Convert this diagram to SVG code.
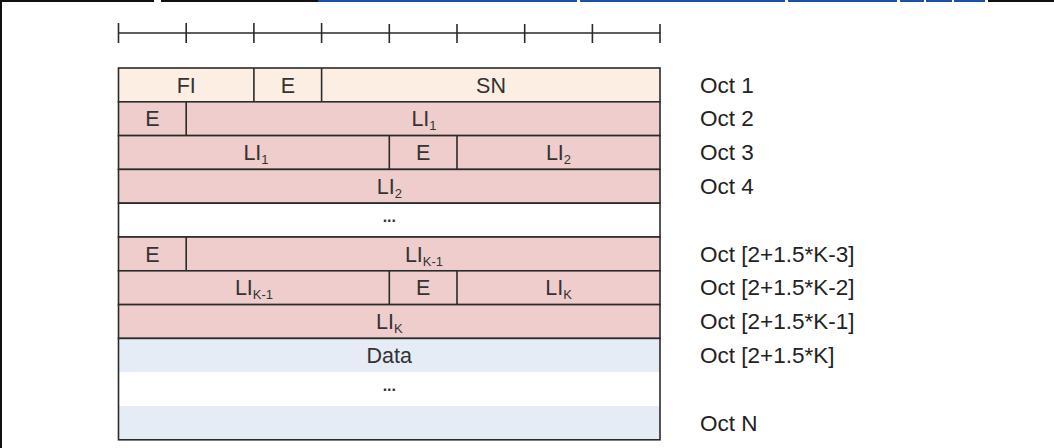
<svg xmlns="http://www.w3.org/2000/svg" width="1054" height="448" viewBox="0 0 1054 448">
<style>
  .ln{stroke:#2a2a2a;stroke-width:1.6;fill:none}
  .t{font-family:"Liberation Sans",Arial,sans-serif;font-size:21.5px;fill:#333;text-anchor:middle}
  .s{font-size:13px}
  .lab{font-family:"Liberation Sans",Arial,sans-serif;font-size:22.5px;fill:#222}
  .dots{font-family:"Liberation Sans",Arial,sans-serif;font-size:16px;font-weight:bold;fill:#333;text-anchor:middle}
  .peach{fill:#FDEEE3}
  .pink{fill:#EFCDCC}
  .blue{fill:#E5ECF6}
</style>
<rect width="1054" height="448" fill="#fff"/>
<g id="frame">
  <line x1="0" y1="1" x2="154" y2="1" stroke="#111" stroke-width="2"/>
  <line x1="161" y1="1" x2="318" y2="1" stroke="#111" stroke-width="2"/>
  <line x1="318" y1="1" x2="577" y2="1" stroke="#1f4fae" stroke-width="2"/>
  <line x1="580" y1="1" x2="785" y2="1" stroke="#1f4fae" stroke-width="2"/>
  <line x1="788" y1="1" x2="897" y2="1" stroke="#1f4fae" stroke-width="2"/>
  <line x1="900" y1="1" x2="924" y2="1" stroke="#1f4fae" stroke-width="2"/>
  <line x1="926" y1="1" x2="952" y2="1" stroke="#1f4fae" stroke-width="2"/>
  <line x1="954" y1="1" x2="985" y2="1" stroke="#1f4fae" stroke-width="2"/>
  <line x1="988" y1="1" x2="1054" y2="1" stroke="#111" stroke-width="2"/>
  <line x1="1" y1="0" x2="1" y2="448" stroke="#111" stroke-width="2"/>
</g>
<g id="connectors">
  <g id="ruler" class="ln">
    <line x1="118" y1="33" x2="660.6" y2="33"/>
    <line x1="118.5" y1="23" x2="118.5" y2="43"/>
    <line x1="186.2" y1="23" x2="186.2" y2="43"/>
    <line x1="253.9" y1="23" x2="253.9" y2="43"/>
    <line x1="321.6" y1="23" x2="321.6" y2="43"/>
    <line x1="389.3" y1="24" x2="389.3" y2="43"/>
    <line x1="457" y1="24" x2="457" y2="43"/>
    <line x1="524.7" y1="24" x2="524.7" y2="43"/>
    <line x1="592.4" y1="24" x2="592.4" y2="43"/>
    <line x1="660" y1="24" x2="660" y2="43"/>
  </g>
</g>
<g id="oct1">
  <rect class="peach" x="118.5" y="68" width="541.5" height="33.8"/>
  <rect class="ln" x="118.5" y="68" width="541.5" height="33.8"/>
  <line class="ln" x1="253.9" y1="68" x2="253.9" y2="101.8"/>
  <line class="ln" x1="321.6" y1="68" x2="321.6" y2="101.8"/>
  <text class="t" x="186.2" y="92.5">FI</text>
  <text class="t" x="287.8" y="92.5">E</text>
  <text class="t" x="491" y="92.5">SN</text>
  <text class="lab" x="700" y="92.5">Oct 1</text>
</g>
<g id="oct2">
  <rect class="pink" x="118.5" y="101.8" width="541.5" height="33.8"/>
  <rect class="ln" x="118.5" y="101.8" width="541.5" height="33.8"/>
  <line class="ln" x1="186.2" y1="101.8" x2="186.2" y2="135.6"/>
  <text class="t" x="152.4" y="126.3">E</text>
  <text class="t" x="424" y="126.3">LI<tspan class="s" dy="4">1</tspan></text>
  <text class="lab" x="700" y="126.3">Oct 2</text>
</g>
<g id="oct3">
  <rect class="pink" x="118.5" y="135.6" width="541.5" height="33.8"/>
  <rect class="ln" x="118.5" y="135.6" width="541.5" height="33.8"/>
  <line class="ln" x1="389.3" y1="135.6" x2="389.3" y2="169.4"/>
  <line class="ln" x1="457" y1="135.6" x2="457" y2="169.4"/>
  <text class="t" x="256" y="160.1">LI<tspan class="s" dy="4">1</tspan></text>
  <text class="t" x="423.2" y="160.1">E</text>
  <text class="t" x="558.5" y="160.1">LI<tspan class="s" dy="4">2</tspan></text>
  <text class="lab" x="700" y="160.1">Oct 3</text>
</g>
<g id="oct4">
  <rect class="pink" x="118.5" y="169.4" width="541.5" height="33.8"/>
  <rect class="ln" x="118.5" y="169.4" width="541.5" height="33.8"/>
  <text class="t" x="389.3" y="193.9">LI<tspan class="s" dy="4">2</tspan></text>
  <text class="lab" x="700" y="193.9">Oct 4</text>
</g>
<g id="gap1">
  <rect x="118.5" y="203.2" width="541.5" height="33.8" fill="#fff" class="ln"/>
  <text class="dots" x="389.3" y="222">...</text>
</g>
<g id="octK3">
  <rect class="pink" x="118.5" y="237" width="541.5" height="33.8"/>
  <rect class="ln" x="118.5" y="237" width="541.5" height="33.8"/>
  <line class="ln" x1="186.2" y1="237" x2="186.2" y2="270.8"/>
  <text class="t" x="152.4" y="261.5">E</text>
  <text class="t" x="424" y="261.5">LI<tspan class="s" dy="4">K-1</tspan></text>
  <text class="lab" x="700" y="261.5">Oct [2+1.5*K-3]</text>
</g>
<g id="octK2">
  <rect class="pink" x="118.5" y="270.8" width="541.5" height="33.8"/>
  <rect class="ln" x="118.5" y="270.8" width="541.5" height="33.8"/>
  <line class="ln" x1="389.3" y1="270.8" x2="389.3" y2="304.6"/>
  <line class="ln" x1="457" y1="270.8" x2="457" y2="304.6"/>
  <text class="t" x="254" y="295.3">LI<tspan class="s" dy="4">K-1</tspan></text>
  <text class="t" x="423.2" y="295.3">E</text>
  <text class="t" x="558.5" y="295.3">LI<tspan class="s" dy="4">K</tspan></text>
  <text class="lab" x="700" y="295.3">Oct [2+1.5*K-2]</text>
</g>
<g id="octK1">
  <rect class="pink" x="118.5" y="304.6" width="541.5" height="33.8"/>
  <rect class="ln" x="118.5" y="304.6" width="541.5" height="33.8"/>
  <text class="t" x="389.3" y="329.1">LI<tspan class="s" dy="4">K</tspan></text>
  <text class="lab" x="700" y="329.1">Oct [2+1.5*K-1]</text>
</g>
<g id="data">
  <rect class="blue" x="118.5" y="338.4" width="541.5" height="33.8"/>
  <rect fill="#fff" x="118.5" y="372.2" width="541.5" height="33.8"/>
  <rect class="blue" x="118.5" y="406" width="541.5" height="33.8"/>
  <rect class="ln" x="118.5" y="338.4" width="541.5" height="101.4"/>
  <text class="t" x="389.3" y="362.5">Data</text>
  <text class="dots" x="389.3" y="391">...</text>
  <text class="lab" x="700" y="362.5">Oct [2+1.5*K]</text>
  <text class="lab" x="700" y="430.5">Oct N</text>
</g>
</svg>
